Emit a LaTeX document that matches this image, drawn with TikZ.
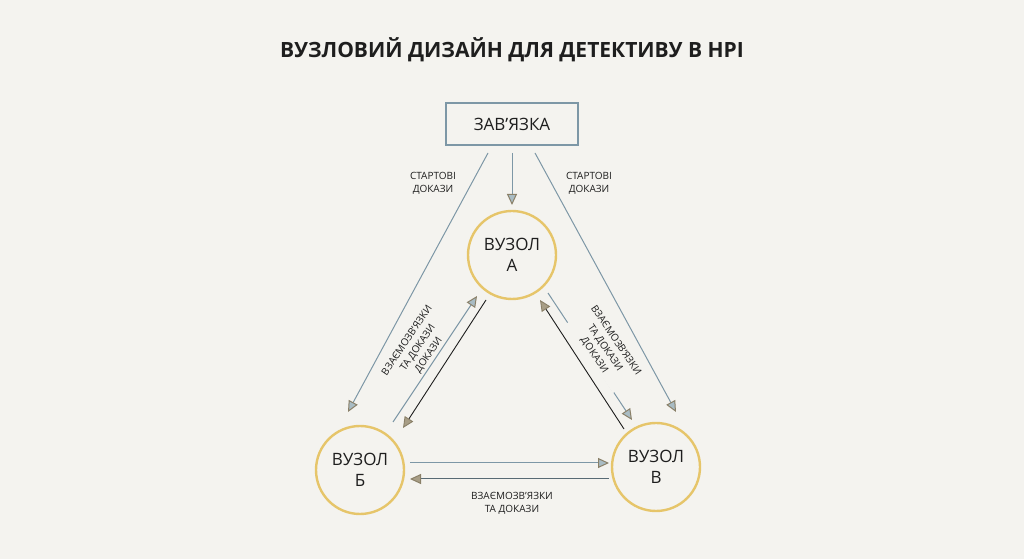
\documentclass[tikz,border=0pt]{standalone}
\usepackage{fontspec}
\setmainfont{Open Sans}
\usetikzlibrary{arrows.meta}
\definecolor{bg}{HTML}{F4F3EF}
\definecolor{gold}{HTML}{E6C56A}
\definecolor{bluegray}{HTML}{7D97A6}
\definecolor{tipblue}{HTML}{A9BCC4}
\definecolor{tanc}{HTML}{A89E86}
\definecolor{tanedge}{HTML}{8A8068}
\definecolor{ink}{HTML}{1E1E1E}
\begin{document}
\begin{tikzpicture}[x=1pt,y=1pt,
  nd/.style={circle,draw=gold,line width=2.4pt,minimum size=88pt,inner sep=0pt,align=center,font=\fontsize{17}{21}\selectfont,text=ink},
  lbl/.style={font=\fontsize{10}{13}\selectfont,align=center,text=ink,fill=bg,inner sep=1pt},
  bluearr/.style={draw=bluegray,line width=1pt,-{Triangle[length=11pt,width=10pt,fill=tipblue,color=tanedge]}},
  darkarr/.style={draw=ink,line width=0.9pt,-{Triangle[length=11pt,width=10pt,fill=tanc,color=tanedge]}}]
\fill[bg] (0,0) rectangle (1024,559);
\useasboundingbox (0,0) rectangle (1024,559);
\node[font=\fontsize{21}{24}\selectfont\bfseries,text=ink] (title) at (512,509) {ВУЗЛОВИЙ ДИЗАЙН ДЛЯ ДЕТЕКТИВУ В НРІ};
\node[draw=bluegray,line width=1.3pt,minimum width=132pt,minimum height=42pt,font=\fontsize{17}{20}\selectfont,text=ink] (box) at (512,435) {ЗАВ'ЯЗКА};
\node[nd] (A) at (512,304) {ВУЗОЛ\\А};
\node[nd] (B) at (360,89) {ВУЗОЛ\\Б};
\node[nd] (V) at (656,92) {ВУЗОЛ\\В};
\coordinate (b1) at (512,406); \coordinate (a1) at (512,354);
\coordinate (b2) at (488,406); \coordinate (l2) at (348,147);
\coordinate (b3) at (535,406); \coordinate (r3) at (676,147);
\draw[bluearr] (b1) -- (a1);
\draw[bluearr] (b2) -- (l2);
\draw[bluearr] (b3) -- (r3);
\node[lbl] (s1) at (433,376) {СТАРТОВІ\\ДОКАЗИ};
\node[lbl] (s2) at (589,376) {СТАРТОВІ\\ДОКАЗИ};
% left pair
\coordinate (p1) at (393,137); \coordinate (p2) at (477,263);
\coordinate (p3) at (486,259); \coordinate (p4) at (403,131);
\draw[bluearr] (p1) -- (p2);
\draw[darkarr] (p3) -- (p4);
% right pair
\coordinate (q1) at (548,266); \coordinate (q2) at (632,139);
\coordinate (q3) at (624,130); \coordinate (q4) at (540,259);
\draw[bluearr] (q1) -- (q2);
\draw[darkarr] (q3) -- (q4);
\node[lbl,rotate=56] (ll) at (418,211) {ВЗАЄМОЗВ'ЯЗКИ\\ТА ДОКАЗИ\\ДОКАЗИ};
\node[lbl,rotate=-56] (rl) at (605,211) {ВЗАЄМОЗВ'ЯЗКИ\\ТА ДОКАЗИ\\ДОКАЗИ};
% bottom
\coordinate (h1) at (410,96); \coordinate (h2) at (609,96);
\coordinate (h3) at (609,80); \coordinate (h4) at (410,80);
\draw[bluearr] (h1) -- (h2);
\draw[draw=bluegray!70!black,line width=1pt,-{Triangle[length=11pt,width=10pt,fill=tanc,color=tanedge]}] (h3) -- (h4);
\node[lbl] (bl) at (512,56) {ВЗАЄМОЗВ'ЯЗКИ\\ТА ДОКАЗИ};
\end{tikzpicture}
\end{document}
